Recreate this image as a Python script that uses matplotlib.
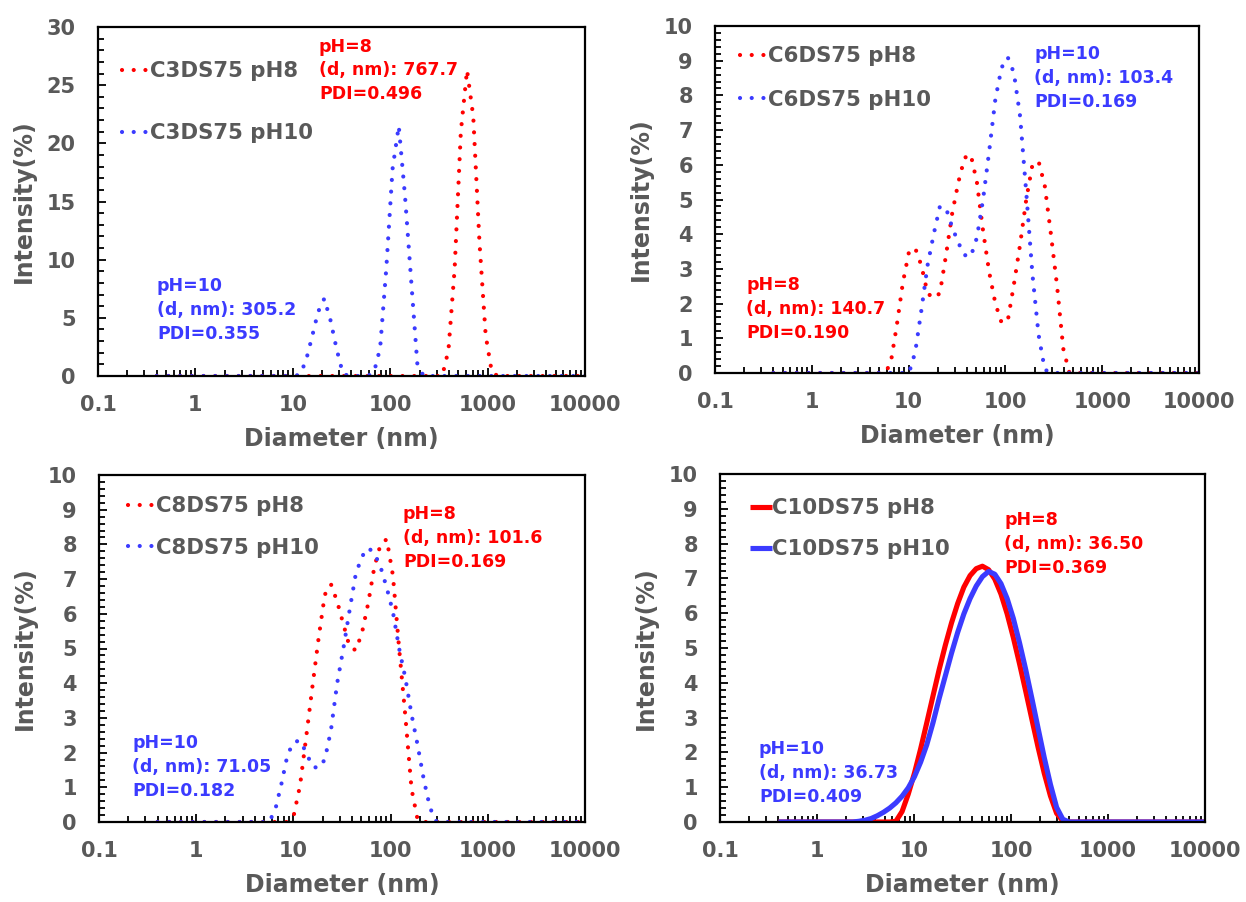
import matplotlib
matplotlib.use("Agg")
import matplotlib.pyplot as plt
from matplotlib.ticker import MultipleLocator, LogLocator, NullFormatter, FixedLocator, FixedFormatter

# Malvern size bins (nm)
sizes_nm = [0.4, 0.4632, 0.5365, 0.6213, 0.7195, 0.8332, 0.9649, 1.117, 1.294, 1.499,
            1.736, 2.010, 2.328, 2.696, 3.122, 3.615, 4.187, 4.849, 5.615, 6.503,
            7.531, 8.721, 10.10, 11.70, 13.54, 15.69, 18.17, 21.04, 24.36, 28.21,
            32.67, 37.84, 43.82, 50.75, 58.77, 68.06, 78.82, 91.28, 105.7, 122.4,
            141.8, 164.2, 190.1, 220.2, 255.0, 295.3, 342.0, 396.1, 458.7, 531.2,
            615.1, 712.4, 825.0, 955.4, 1106, 1281, 1484, 1718, 1990, 2305,
            2669, 3091, 3580, 4145, 4801, 5560, 6439, 7456, 8635, 10000]

# Intensity (%) per bin
c3_ph8 = [0, 0, 0, 0, 0, 0, 0, 0, 0, 0,
          0, 0, 0, 0, 0, 0, 0, 0, 0, 0,
          0, 0, 0, 0, 0, 0, 0, 0, 0, 0,
          0, 0, 0, 0, 0, 0, 0, 0, 0, 0,
          0, 0, 0, 0, 0, 0, 0, 2.2, 9.2, 21.0,
          26.3, 22.3, 11.5, 3.5, 0.3, 0, 0, 0, 0, 0,
          0, 0, 0, 0, 0, 0, 0, 0, 0, 0]
c3_ph10 = [0, 0, 0, 0, 0, 0, 0, 0, 0, 0,
           0, 0, 0, 0, 0, 0, 0, 0, 0, 0,
           0, 0, 0, 0.1, 1.2, 3.3, 5.5, 6.65, 4.8, 2.3,
           0.2, 0, 0, 0, 0, 0.3, 2.4, 9.3, 17.8, 21.5,
           15.5, 8.2, 1.0, 0, 0, 0, 0, 0, 0, 0,
           0, 0, 0, 0, 0, 0, 0, 0, 0, 0,
           0, 0, 0, 0, 0, 0, 0, 0, 0, 0]
c6_ph8 = [0, 0, 0, 0, 0, 0, 0, 0, 0, 0,
          0, 0, 0, 0, 0, 0, 0, 0, 0, 0.25,
          1.35, 2.6, 3.5, 3.6, 3.1, 2.3, 2.15, 2.3, 3.4, 4.6,
          5.5, 6.2, 6.3, 5.5, 4.1, 2.9, 2.0, 1.45, 1.5, 2.55,
          3.7, 5.0, 6.0, 6.1, 5.4, 4.0, 2.5, 0.7, 0, 0,
          0, 0, 0, 0, 0, 0, 0, 0, 0, 0,
          0, 0, 0, 0, 0, 0, 0, 0, 0, 0]
c6_ph10 = [0, 0, 0, 0, 0, 0, 0, 0, 0, 0,
           0, 0, 0, 0, 0, 0, 0, 0, 0, 0,
           0, 0, 0, 0.6, 1.8, 3.1, 4.0, 4.8, 4.75, 4.2,
           3.75, 3.4, 3.35, 3.9, 5.0, 6.4, 7.9, 8.8, 9.1, 8.65,
           7.4, 5.2, 2.85, 1.1, 0.1, 0, 0, 0, 0, 0,
           0, 0, 0, 0, 0, 0, 0, 0, 0, 0,
           0, 0, 0, 0, 0, 0, 0, 0, 0, 0]
c8_ph8 = [0, 0, 0, 0, 0, 0, 0, 0, 0, 0,
          0, 0, 0, 0, 0, 0, 0, 0, 0, 0,
          0, 0, 0.2, 1.05, 2.45, 3.9, 5.3, 6.55, 6.85, 6.35,
          5.7, 5.05, 4.95, 5.45, 6.3, 7.35, 8.0, 8.15, 7.1, 5.0,
          3.05, 0.95, 0.05, 0, 0, 0, 0, 0, 0, 0,
          0, 0, 0, 0, 0, 0, 0, 0, 0, 0,
          0, 0, 0, 0, 0, 0, 0, 0, 0, 0]
c8_ph10 = [0, 0, 0, 0, 0, 0, 0, 0, 0, 0,
           0, 0, 0, 0, 0, 0, 0, 0, 0, 0.35,
           1.1, 1.95, 2.3, 2.35, 2.0, 1.6, 1.55, 1.8, 2.65, 4.0,
           5.0, 6.1, 7.15, 7.65, 7.9, 7.75, 7.35, 6.75, 6.05, 5.0,
           4.15, 3.1, 2.2, 1.2, 0.4, 0.02, 0, 0, 0, 0,
           0, 0, 0, 0, 0, 0, 0, 0, 0, 0,
           0, 0, 0, 0, 0, 0, 0, 0, 0, 0]
c10_ph8 = [0, 0, 0, 0, 0, 0, 0, 0, 0, 0,
           0, 0, 0, 0, 0, 0, 0, 0, 0, 0.02,
           0.3, 0.8, 1.4, 2.1, 2.85, 3.62, 4.38, 5.08, 5.72, 6.28,
           6.75, 7.08, 7.28, 7.35, 7.25, 6.98, 6.55, 5.98, 5.3, 4.55,
           3.76, 2.95, 2.15, 1.4, 0.75, 0.25, 0.03, 0, 0, 0,
           0, 0, 0, 0, 0, 0, 0, 0, 0, 0,
           0, 0, 0, 0, 0, 0, 0, 0, 0, 0]
c10_ph10 = [0, 0, 0, 0, 0, 0, 0, 0, 0, 0,
            0, 0, 0, 0.02, 0.05, 0.1, 0.18, 0.28, 0.4, 0.55,
            0.74, 0.98, 1.3, 1.72, 2.22, 2.85, 3.55, 4.2, 4.85, 5.45,
            5.98, 6.42, 6.78, 7.05, 7.2, 7.12, 6.85, 6.42, 5.85, 5.15,
            4.38, 3.55, 2.7, 1.85, 1.08, 0.42, 0.08, 0, 0, 0,
            0, 0, 0, 0, 0, 0, 0, 0, 0, 0,
            0, 0, 0, 0, 0, 0, 0, 0, 0, 0]

x_ticks = [0.1, 1, 10, 100, 1000, 10000]
x_tick_labels = ['0.1', '1', '10', '100', '1000', '10000']

RED = '#FF0000'
BLUE = '#3B3BFF'
GRAY = '#595959'
W, H = 1246, 902

plt.rcParams['font.family'] = 'DejaVu Sans'
plt.rcParams['font.weight'] = 'bold'

fig = plt.figure(figsize=(W / 100, H / 100), dpi=100)


def make_axes(l, r, t, b):
    return fig.add_axes([l / W, 1 - b / H, (r - l) / W, (b - t) / H])


def style_axes(ax, ymax, major, minor):
    ax.set_xscale('log')
    ax.set_xlim(0.1, 10000)
    ax.set_ylim(0, ymax)
    ax.xaxis.set_major_locator(FixedLocator(x_ticks))
    ax.xaxis.set_major_formatter(FixedFormatter(x_tick_labels))
    ax.xaxis.set_minor_locator(LogLocator(base=10, subs=[2, 3, 4, 5, 6, 7, 8, 9]))
    ax.xaxis.set_minor_formatter(NullFormatter())
    ax.yaxis.set_major_locator(MultipleLocator(major))
    ax.yaxis.set_minor_locator(MultipleLocator(minor))
    ax.tick_params(which='both', direction='in', color='black', width=1.3,
                   labelcolor=GRAY, labelsize=15, top=False, right=False)
    ax.tick_params(which='major', length=6)
    ax.tick_params(which='minor', length=4)
    ax.tick_params(axis='x', pad=14)
    ax.tick_params(axis='y', pad=16)
    for s in ax.spines.values():
        s.set_linewidth(1.6)
        s.set_color('black')
    ax.set_xlabel('Diameter (nm)', fontsize=17, fontweight='bold', color=GRAY, labelpad=8)
    ax.set_ylabel('Intensity(%)', fontsize=17, fontweight='bold', color=GRAY, labelpad=8)


dot = dict(linestyle=(0, (0.01, 2.8)), dash_capstyle='round', linewidth=3.0)
solid = dict(linestyle='-', linewidth=3.7, solid_capstyle='butt')


def add_legend(ax, x_px, y_px, spacing, hlen, hpad):
    ax.legend(loc='upper left', bbox_to_anchor=(x_px / W, 1 - y_px / H),
              bbox_transform=fig.transFigure, frameon=False, handlelength=hlen,
              handletextpad=hpad, borderpad=0, borderaxespad=0, labelspacing=spacing,
              prop={'size': 15.3, 'weight': 'bold'}, labelcolor=GRAY)


def note(x_px, y_px, txt, color):
    fig.text(x_px / W, 1 - y_px / H, txt, color=color, fontsize=12.5, fontweight='bold',
             ha='left', va='center', linespacing=1.42)


# Panel 1: C3DS75
ax1 = make_axes(98, 585, 27, 376)
ax1.plot(sizes_nm, c3_ph8, color=RED, label='C3DS75 pH8', **dot)
ax1.plot(sizes_nm, c3_ph10, color=BLUE, label='C3DS75 pH10', **dot)
style_axes(ax1, 30, 5, 1)
add_legend(ax1, 122, 61, 1.98, 1.25, 0.05)
note(319, 70.5, 'pH=8\n(d, nm): 767.7\nPDI=0.496', RED)
note(157, 310, 'pH=10\n(d, nm): 305.2\nPDI=0.355', BLUE)

# Panel 2: C6DS75
ax2 = make_axes(715, 1199, 26, 373)
ax2.plot(sizes_nm, c6_ph8, color=RED, label='C6DS75 pH8', **dot)
ax2.plot(sizes_nm, c6_ph10, color=BLUE, label='C6DS75 pH10', **dot)
style_axes(ax2, 10, 1, 0.2)
add_legend(ax2, 740, 46, 1.12, 1.25, 0.05)
note(1034, 78, 'pH=10\n(d, nm): 103.4\nPDI=0.169', BLUE)
note(746, 309, 'pH=8\n(d, nm): 140.7\nPDI=0.190', RED)

# Panel 3: C8DS75
ax3 = make_axes(99, 585, 475, 822)
ax3.plot(sizes_nm, c8_ph8, color=RED, label='C8DS75 pH8', **dot)
ax3.plot(sizes_nm, c8_ph10, color=BLUE, label='C8DS75 pH10', **dot)
style_axes(ax3, 10, 1, 0.2)
add_legend(ax3, 128, 496, 1.03, 1.25, 0.05)
note(403, 538, 'pH=8\n(d, nm): 101.6\nPDI=0.169', RED)
note(132, 767, 'pH=10\n(d, nm): 71.05\nPDI=0.182', BLUE)

# Panel 4: C10DS75
ax4 = make_axes(720, 1205, 474, 822)
ax4.plot(sizes_nm, c10_ph8, color=RED, label='C10DS75 pH8', **solid)
ax4.plot(sizes_nm, c10_ph10, color=BLUE, label='C10DS75 pH10', **solid)
style_axes(ax4, 10, 1, 0.2)
add_legend(ax4, 750, 498, 1.0, 1.05, 0.0)
note(1004, 544, 'pH=8\n(d, nm): 36.50\nPDI=0.369', RED)
note(759, 773, 'pH=10\n(d, nm): 36.73\nPDI=0.409', BLUE)

fig.savefig('out.png', dpi=100, facecolor='white')
